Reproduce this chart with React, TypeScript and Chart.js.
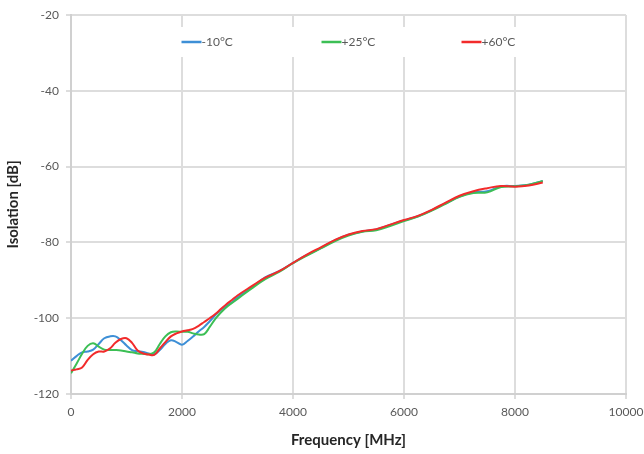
import { useEffect, useRef } from "react";
import { Chart, registerables } from "chart.js";

Chart.register(...registerables);

const frequencyMHz = [
  0, 100, 200, 300, 400, 500, 600, 700, 800, 900, 1000, 1100, 1200, 1300, 1400, 1500,
  1600, 1700, 1800, 1900, 2000, 2100, 2200, 2300, 2400, 2500, 2600, 2700, 2800, 2900,
  3000, 3250, 3500, 3750, 4000, 4250, 4500, 4750, 5000, 5250, 5500, 5750, 6000, 6250,
  6500, 6750, 7000, 7250, 7500, 7750, 8000, 8250, 8500,
];

const isolationMinus10 = [
  -111.2, -110.0, -109.0, -108.8, -108.3, -106.8, -105.3, -104.8, -104.8, -105.8, -107.2,
  -108.4, -108.7, -108.9, -109.3, -109.5, -108.4, -106.8, -105.8, -106.3, -107.0, -106.0,
  -104.8, -103.5, -102.3, -100.8, -99.2, -97.8, -96.8, -95.8, -94.5, -92.0, -89.2, -87.6,
  -85.4, -83.3, -81.5, -79.5, -78.0, -77.1, -76.6, -75.4, -74.2, -73.1, -71.5, -69.7,
  -67.9, -66.8, -66.5, -65.2, -65.1, -64.8, -63.8,
];

const isolationPlus25 = [
  -114.5, -112.0, -109.4, -107.3, -106.6, -107.5, -108.3, -108.4, -108.4, -108.5, -108.8,
  -109.0, -109.3, -109.4, -109.5, -109.0, -106.8, -104.8, -103.7, -103.5, -103.6, -103.6,
  -104.0, -104.3, -104.2, -102.3, -100.2, -98.5, -97.1, -96.0, -94.9, -92.2, -89.7, -87.8,
  -85.5, -83.5, -81.6, -79.7, -78.2, -77.2, -76.8, -75.7, -74.4, -73.2, -71.6, -69.8,
  -68.0, -67.0, -66.8, -65.4, -65.2, -64.8, -63.8,
];

const isolationPlus60 = [
  -113.8, -113.5, -113.0, -111.0, -109.5, -108.8, -108.8, -108.0, -106.5, -105.5, -105.3,
  -106.5, -108.5, -109.3, -109.6, -109.7, -108.0, -106.3, -104.8, -104.0, -103.5, -103.2,
  -102.8, -102.0, -101.0, -100.0, -98.9, -97.6, -96.3, -95.2, -94.0, -91.6, -89.3, -87.6,
  -85.4, -83.2, -81.3, -79.4, -77.9, -77.0, -76.5, -75.3, -74.1, -73.0, -71.4, -69.5,
  -67.7, -66.5, -65.7, -65.1, -65.3, -65.0, -64.2,
];

const seriesLabels = ["-10°C", "+25°C", "+60°C"];
const seriesColors = ["#3d8fd6", "#3cbf55", "#f22b2b"];

const FONT = "Lato, 'Open Sans', sans-serif";

const insideLegend = {
  id: "insideLegend",
  afterDatasetsDraw(chart: any) {
    const { ctx, chartArea } = chart;
    const cx = (chartArea.left + chartArea.right) / 2;
    ctx.save();
    ctx.fillStyle = "#ffffff";
    ctx.fillRect(cx - 185, chartArea.top + 12, 370, 30);
    ctx.font = `12px ${FONT}`;
    ctx.textBaseline = "middle";
    ctx.textAlign = "left";
    const y = chartArea.top + 27;
    const startX = cx - 167;
    chart.data.datasets.forEach((ds: any, i: number) => {
      const x = startX + i * 140;
      ctx.strokeStyle = ds.borderColor;
      ctx.lineWidth = 2.5;
      ctx.beginPath();
      ctx.moveTo(x, y);
      ctx.lineTo(x + 20, y);
      ctx.stroke();
      ctx.fillStyle = "#595959";
      ctx.fillText(ds.label, x + 20, y);
    });
    ctx.restore();
  },
};

export default function App() {
  const canvasRef = useRef<HTMLCanvasElement | null>(null);

  useEffect(() => {
    if (!canvasRef.current) return;
    const makeData = (vals: number[]) => frequencyMHz.map((f, i) => ({ x: f, y: vals[i] }));
    const series = [isolationMinus10, isolationPlus25, isolationPlus60];
    const chart = new Chart(canvasRef.current, {
      type: "line",
      data: {
        datasets: series.map((vals, i) => ({
          label: seriesLabels[i],
          data: makeData(vals),
          borderColor: seriesColors[i],
          backgroundColor: seriesColors[i],
          borderWidth: 2,
          pointRadius: 0,
          tension: 0.4,
          fill: false,
          order: series.length - i,
        })),
      },
      options: {
        animation: false,
        responsive: false,
        maintainAspectRatio: false,
        layout: { padding: { top: 15, right: 18, left: 0, bottom: 0 } },
        plugins: {
          legend: { display: false },
          tooltip: { enabled: false },
        },
        scales: {
          x: {
            type: "linear",
            min: 0,
            max: 10000,
            ticks: {
              stepSize: 2000,
              color: "#595959",
              font: { family: FONT, size: 12 },
              padding: 6,
              maxRotation: 0,
              callback: (v: any) => String(v),
            },
            grid: { color: "#dddddd", lineWidth: 2, tickLength: 5 },
            border: { color: "#d0d0d0", width: 2 },
            title: {
              display: true,
              text: "Frequency [MHz]",
              color: "#262626",
              font: { family: FONT, size: 15, weight: "bold" },
              padding: { top: 4, bottom: 5 },
            },
            afterFit: (scale: any) => {
              scale.height = 60;
              scale.paddingRight = 0;
              scale.paddingLeft = 0;
            },
          },
          y: {
            type: "linear",
            min: -120,
            max: -20,
            ticks: {
              stepSize: 20,
              color: "#595959",
              font: { family: FONT, size: 12 },
              padding: 7,
              callback: (v: any) => String(v),
            },
            grid: { color: "#dddddd", lineWidth: 2, tickLength: 5 },
            border: { color: "#d0d0d0", width: 2 },
            title: {
              display: true,
              text: "Isolation [dB]",
              color: "#262626",
              font: { family: FONT, size: 15, weight: "bold" },
              padding: { top: 4, bottom: 4 },
            },
            afterFit: (scale: any) => {
              scale.width = 71;
              scale.paddingTop = 0;
              scale.paddingBottom = 0;
            },
          },
        },
      },
      plugins: [insideLegend],
    });
    return () => chart.destroy();
  }, []);

  return (
    <div style={{ position: "fixed", left: 0, top: 0, width: 644, height: 454, background: "#fff" }}>
      <canvas ref={canvasRef} width={644} height={454} style={{ width: 644, height: 454 }} />
    </div>
  );
}
